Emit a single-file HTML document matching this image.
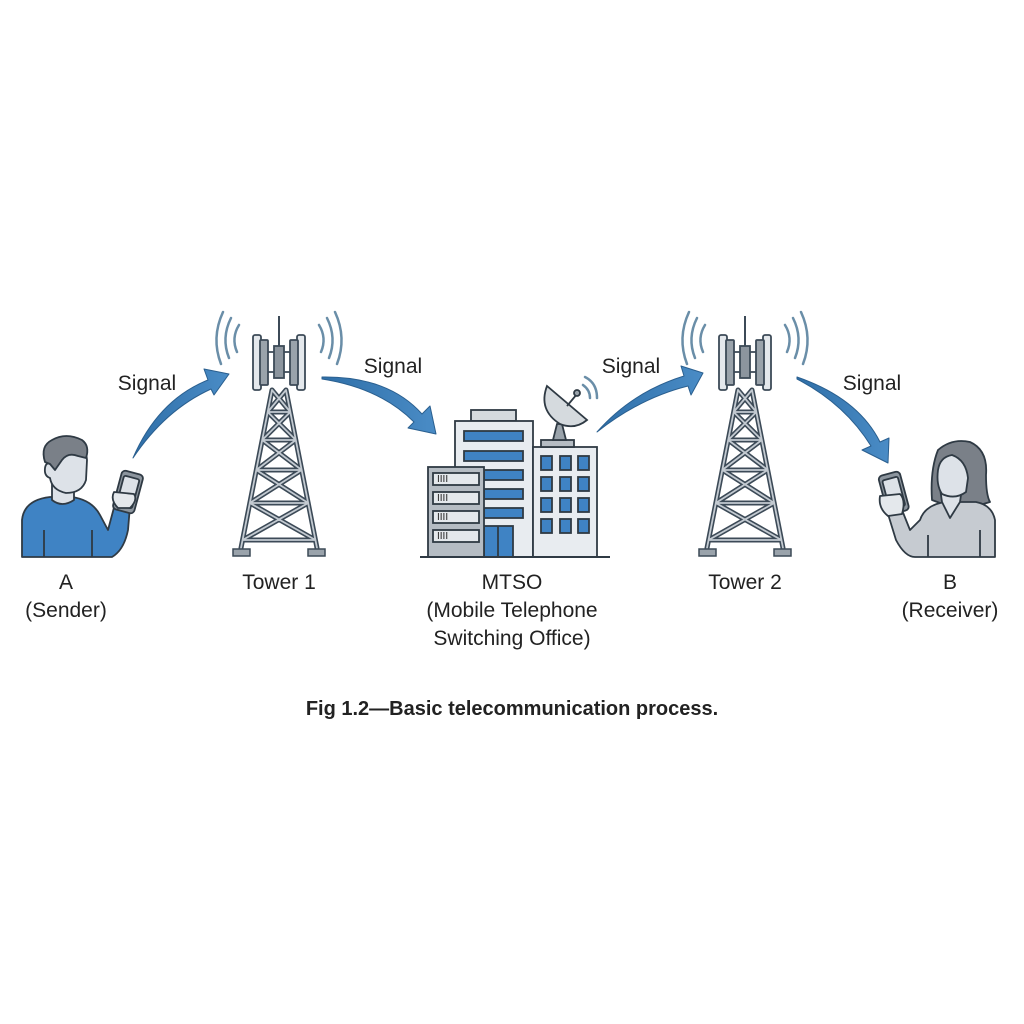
<!DOCTYPE html>
<html><head><meta charset="utf-8"><style>
html,body{margin:0;padding:0;background:#fff;}
svg{display:block;}
text{font-family:"Liberation Sans",Arial,sans-serif;fill:#222;}
</style></head><body>
<svg width="1024" height="1024" viewBox="0 0 1024 1024" xmlns="http://www.w3.org/2000/svg">
<defs>
<linearGradient id="ag" x1="0" y1="0" x2="1" y2="0"><stop offset="0" stop-color="#2f6fa8"/><stop offset="1" stop-color="#4a8cc6"/></linearGradient>
<g id="tower">
  <g fill="none" stroke="#6a8ea8" stroke-width="2.5" stroke-linecap="round">
    <path d="M-40,325 Q-48,338 -42,352"/><path d="M-48,318 Q-58,338 -50,358"/><path d="M-56,312 Q-68,338 -58,364"/>
    <path d="M40,325 Q48,338 42,352"/><path d="M48,318 Q58,338 50,358"/><path d="M56,312 Q68,338 58,364"/>
  </g>
  <line x1="0" y1="316" x2="0" y2="348" stroke="#3c4a57" stroke-width="2"/>
  <g stroke-linecap="round">
   <g id="lat" fill="none">
    <path d="M-7,390 L-38,548 M7,390 L38,548
    M-11.3,412 L11.3,412 M-16.8,440 L16.8,440 M-22.7,470 L22.7,470 M-29.2,503 L29.2,503 M-36.4,540 L36.4,540
    M-7,390 L11.3,412 M7,390 L-11.3,412
    M-11.3,412 L16.8,440 M11.3,412 L-16.8,440
    M-16.8,440 L22.7,470 M16.8,440 L-22.7,470
    M-22.7,470 L29.2,503 M22.7,470 L-29.2,503
    M-29.2,503 L36.4,540 M29.2,503 L-36.4,540"/>
   </g>
   <use href="#lat" stroke="#3c4a57" stroke-width="5"/>
   <use href="#lat" stroke="#c3cad1" stroke-width="1.8"/>
  </g>
  <rect x="-46" y="549" width="17" height="7" fill="#9aa3ab" stroke="#3c4a57" stroke-width="1.5"/>
  <rect x="29" y="549" width="17" height="7" fill="#9aa3ab" stroke="#3c4a57" stroke-width="1.5"/>
  <g stroke="#3c4a57" stroke-width="1.8">
    <line x1="-18" y1="352" x2="18" y2="352"/><line x1="-18" y1="372" x2="18" y2="372"/>
    <rect x="-26" y="335" width="8" height="55" rx="2" fill="#e4e8ec"/>
    <rect x="-19" y="340" width="8" height="45" rx="1" fill="#9aa3ab"/>
    <rect x="18" y="335" width="8" height="55" rx="2" fill="#e4e8ec"/>
    <rect x="11" y="340" width="8" height="45" rx="1" fill="#9aa3ab"/>
    <rect x="-5" y="346" width="10" height="32" fill="#8c959e"/>
  </g>
</g>
</defs>

<use href="#tower" x="279" y="0"/>
<use href="#tower" x="745" y="0"/>

<!-- arrows -->
<g fill="url(#ag)" stroke="#2a5f8f" stroke-width="1" stroke-linejoin="round">
  <path d="M133,458 Q158,400 208,380 L204,369 L229,374 L214,395 L211,389 Q165,410 133,458 Z"/>
  <path d="M322,377 Q388,376 422,414 L430,406 L436,434 L408,428 L414,422 Q380,388 322,379 Z"/>
  <path d="M597,432 Q632,392 684,376 L681,366 L703,373 L691,395 L688,386 Q640,398 597,432 Z"/>
  <path d="M797,377 Q858,398 880,442 L889,438 L888,463 L862,450 L871,446 Q845,404 797,379 Z"/>
</g>

<!-- Person A -->
<g stroke="#2f3a44" stroke-width="1.8" stroke-linejoin="round">
  <path d="M22,557 L22,520 Q24,500 50,497 L72,497 Q92,500 100,515 L108,530 L116,500 L130,506 L128,530 Q124,550 112,557 Z" fill="#3f83c4"/>
  <path d="M52,480 L52,500 Q62,508 74,500 L74,486 Z" fill="#dde2e8"/>
  <path d="M48,452 Q50,438 66,438 Q86,440 87,460 L86,480 Q82,493 66,493 Q52,490 50,478 Q44,476 45,468 Q46,462 50,464 Z" fill="#dde2e8"/>
  <path d="M45,462 Q40,446 52,440 Q66,432 82,440 Q90,446 86,458 L78,456 Q68,452 62,460 L55,470 L50,464 Z" fill="#7a8088"/>
  <g transform="rotate(15 128 492)"><rect x="117" y="472" width="22" height="40" rx="4" fill="#8c959e"/><rect x="120" y="477" width="16" height="30" rx="2" fill="#dde2e8"/></g>
  <path d="M114,492 Q110,500 118,508 L130,508 Q138,500 134,494 Z" fill="#e4e8ec"/>
  <line x1="44" y1="530" x2="44" y2="557"/><line x1="92" y1="530" x2="92" y2="557"/>
</g>

<!-- Person B -->
<g stroke="#2f3a44" stroke-width="1.8" stroke-linejoin="round">
  <path d="M932,500 Q930,470 938,450 Q952,438 970,442 Q988,450 986,475 Q986,495 990,502 Q960,512 932,500 Z" fill="#7a8088"/>
  <path d="M995,557 L995,520 Q992,505 976,502 L945,502 Q925,505 920,520 L910,530 L902,510 L888,514 L896,540 Q905,557 915,557 Z" fill="#c6cbd1"/>
  <path d="M940,488 L942,502 L950,518 L960,502 L962,488 Z" fill="#dde2e8"/>
  <path d="M938,470 Q940,457 952,455 Q966,460 968,478 L966,492 Q955,500 942,494 Q936,485 938,470 Z" fill="#dde2e8"/>
  <g transform="rotate(-15 894 494)"><rect x="883" y="473" width="22" height="40" rx="4" fill="#8c959e"/><rect x="886" y="478" width="16" height="30" rx="2" fill="#dde2e8"/></g>
  <path d="M880,496 Q878,508 888,516 L902,514 Q906,500 900,494 Z" fill="#e4e8ec"/>
  <line x1="928" y1="535" x2="928" y2="557"/><line x1="980" y1="530" x2="980" y2="557"/>
</g>

<!-- MTSO building -->
<g stroke="#2f3a44" stroke-width="1.8">
  <rect x="471" y="410" width="45" height="11" fill="#d5dade"/>
  <rect x="455" y="421" width="78" height="136" fill="#e8ecf0"/>
  <rect x="464" y="431" width="59" height="10" fill="#3f83c4"/>
  <rect x="464" y="451" width="59" height="10" fill="#3f83c4"/>
  <rect x="484" y="470" width="39" height="10" fill="#3f83c4"/>
  <rect x="484" y="489" width="39" height="10" fill="#3f83c4"/>
  <rect x="484" y="508" width="39" height="10" fill="#3f83c4"/>
  <rect x="484" y="526" width="29" height="31" fill="#3f83c4"/>
  <line x1="498" y1="526" x2="498" y2="557"/>
  <rect x="428" y="467" width="56" height="90" fill="#b5bcc3"/>
  <rect x="433" y="473" width="46" height="12" fill="#e4e8ec"/>
  <rect x="433" y="492" width="46" height="12" fill="#e4e8ec"/>
  <rect x="433" y="511" width="46" height="12" fill="#e4e8ec"/>
  <rect x="433" y="530" width="46" height="12" fill="#e4e8ec"/>
  <rect x="533" y="447" width="64" height="110" fill="#e8ecf0"/>
  <g fill="#3f83c4">
    <rect x="541" y="456" width="11" height="14"/><rect x="560" y="456" width="11" height="14"/><rect x="578" y="456" width="11" height="14"/>
    <rect x="541" y="477" width="11" height="14"/><rect x="560" y="477" width="11" height="14"/><rect x="578" y="477" width="11" height="14"/>
    <rect x="541" y="498" width="11" height="14"/><rect x="560" y="498" width="11" height="14"/><rect x="578" y="498" width="11" height="14"/>
    <rect x="541" y="519" width="11" height="14"/><rect x="560" y="519" width="11" height="14"/><rect x="578" y="519" width="11" height="14"/>
  </g>
  <rect x="541" y="440" width="33" height="7" fill="#b5bcc3"/>
  <path d="M553,440 L557,424 L562,424 L566,440 Z" fill="#9aa3ab"/>
  <path d="M547,386 Q538,410 560,424 Q575,430 587,420 Z" fill="#d5dade"/>
  <line x1="567" y1="406" x2="577" y2="394"/><circle cx="577" cy="393" r="3" fill="#9aa3ab"/>
  <line x1="420" y1="557" x2="610" y2="557" stroke-width="2"/>
</g>
<g fill="none" stroke="#6a8ea8" stroke-width="2.5" stroke-linecap="round">
  <path d="M583,385 Q590,390 590,398"/><path d="M585,377 Q597,383 597,398"/>
</g>
<g fill="#333" font-size="10" font-family="Liberation Mono,monospace">
  <text x="437" y="482">IIII</text><text x="437" y="501">IIII</text><text x="437" y="520">IIII</text><text x="437" y="539">IIII</text>
</g>

<g font-size="21" text-anchor="middle">
  <text x="147" y="390">Signal</text>
  <text x="393" y="373">Signal</text>
  <text x="631" y="373">Signal</text>
  <text x="872" y="390">Signal</text>
  <text x="66" y="589">A</text>
  <text x="66" y="617">(Sender)</text>
  <text x="279" y="589">Tower 1</text>
  <text x="512" y="589">MTSO</text>
  <text x="512" y="617">(Mobile Telephone</text>
  <text x="512" y="645">Switching Office)</text>
  <text x="745" y="589">Tower 2</text>
  <text x="950" y="589">B</text>
  <text x="950" y="617">(Receiver)</text>
</g>
<text x="512" y="715" font-size="20" font-weight="bold" text-anchor="middle">Fig 1.2—Basic telecommunication process.</text>
</svg>
</body></html>
